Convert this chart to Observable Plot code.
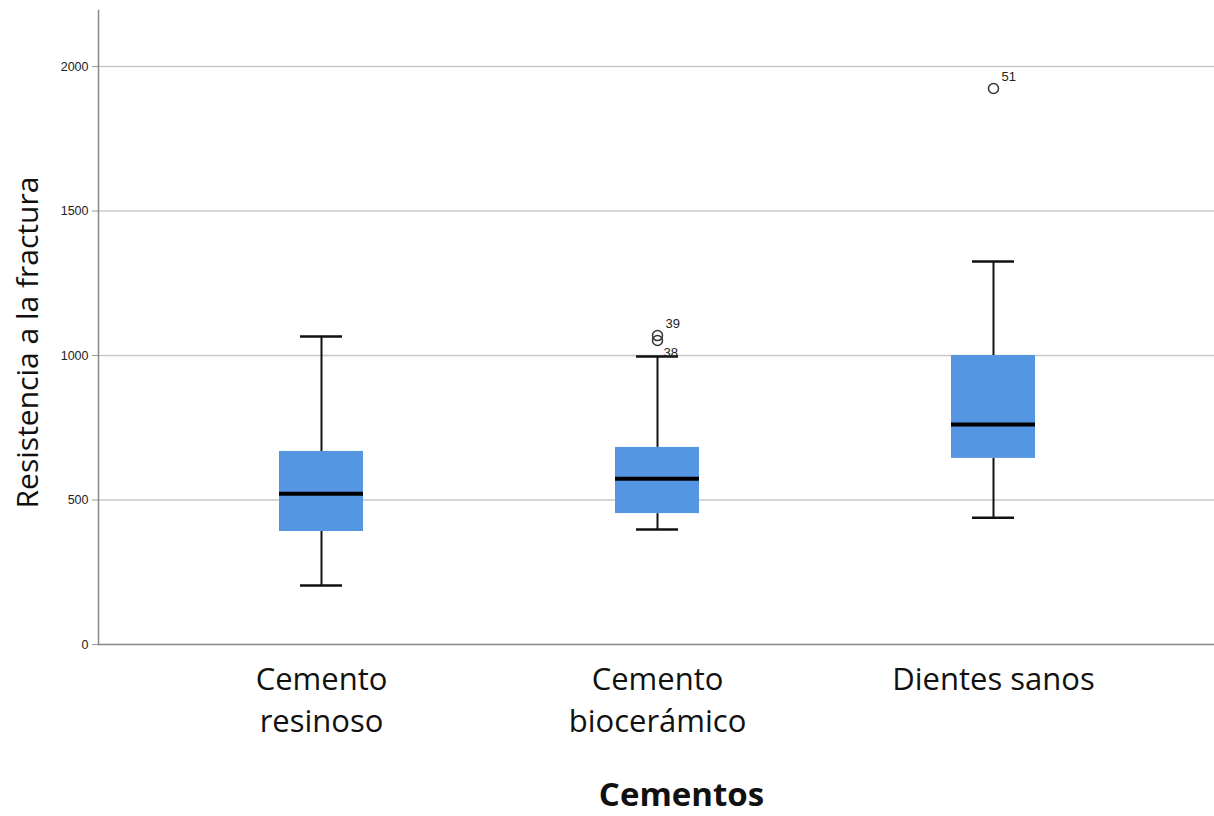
<!DOCTYPE html>
<html>
<head>
<meta charset="utf-8">
<script src="https://cdn.jsdelivr.net/npm/d3@7"></script>
<script src="https://cdn.jsdelivr.net/npm/@observablehq/plot@0.6"></script>
<style>
  html, body { margin: 0; padding: 0; background: #fff; }
  #chart svg { display: block; }
</style>
</head>
<body>
<div id="chart"></div>
<script>
const categories = ["Cemento resinoso", "Cemento biocerámico", "Dientes sanos"];
const tickLabels = ["Cemento\nresinoso", "Cemento\nbiocerámico", "Dientes sanos"];
const whiskerLow = [204, 398, 439];
const q1 = [391, 453, 644];
const median = [522, 574, 761];
const q3 = [668, 682, 1000];
const whiskerHigh = [1066, 997, 1325];
const outlierGroup = ["Cemento biocerámico", "Cemento biocerámico", "Dientes sanos"];
const outlierValue = [1052, 1069, 1924];
const outlierId = ["38", "39", "51"];
const yTicks = [0, 500, 1000, 1500, 2000];

const boxes = categories.map((c, i) => ({
  cat: c, lo: whiskerLow[i], q1: q1[i], med: median[i], q3: q3[i], hi: whiskerHigh[i]
}));
const outliers = outlierGroup.map((g, i) => ({cat: g, v: outlierValue[i], id: outlierId[i]}));
const labelMap = new Map(categories.map((c, i) => [c, tickLabels[i]]));

const plot = Plot.plot({
  width: 1214,
  height: 816,
  marginLeft: 98,
  marginRight: 0,
  marginTop: 10,
  marginBottom: 172,
  x: {domain: categories, range: [153, 1161], padding: 0},
  y: {domain: [0, 2194]},
  style: {background: "#fff"},
  marks: [
    Plot.gridY(yTicks.slice(1), {stroke: "#c8c8c8", strokeOpacity: 1, strokeWidth: 1.5}),
    Plot.axisY(yTicks, {tickSize: 6, tickPadding: 4, fontSize: 12.5, fontFamily: "Liberation Sans, Arial", stroke: "#999", fill: "#222", label: null, tickFormat: d => String(d)}),
    Plot.axisX({tickSize: 0, tickPadding: 16, fontSize: 31, fontFamily: "Open Sans", fill: "#111", tickFormat: d => labelMap.get(d), label: null, lineHeight: 1.35}),
    Plot.frame({anchor: "left", stroke: "#888", strokeWidth: 1.5}),
    Plot.frame({anchor: "bottom", stroke: "#888", strokeWidth: 1.5}),
    Plot.ruleX(boxes, {x: "cat", y1: "lo", y2: "q1", stroke: "#111", strokeWidth: 2}),
    Plot.ruleX(boxes, {x: "cat", y1: "q3", y2: "hi", stroke: "#111", strokeWidth: 2}),
    Plot.tickY(boxes, {x: "cat", y: "lo", stroke: "#111", strokeWidth: 2.5, insetLeft: 147, insetRight: 147}),
    Plot.tickY(boxes, {x: "cat", y: "hi", stroke: "#111", strokeWidth: 2.5, insetLeft: 147, insetRight: 147}),
    Plot.barY(boxes, {x: "cat", y1: "q1", y2: "q3", fill: "#5596e3", insetLeft: 126, insetRight: 126}),
    Plot.tickY(boxes, {x: "cat", y: "med", stroke: "#000", strokeWidth: 4, insetLeft: 126, insetRight: 126}),
    Plot.dot(outliers, {x: "cat", y: "v", r: 5, stroke: "#333", strokeWidth: 1.5, fill: "none"}),
    Plot.text(outliers.filter(d => d.id !== "38"), {x: "cat", y: "v", text: "id", dx: 8, dy: -12, textAnchor: "start", fontSize: 13, fontFamily: "Liberation Sans, Arial", fill: "#222"}),
    Plot.text(outliers.filter(d => d.id === "38"), {x: "cat", y: "v", text: "id", dx: 6, dy: 12, textAnchor: "start", fontSize: 13, fontFamily: "Liberation Sans, Arial", fill: "#222"}),
    Plot.text(["Resistencia a la fractura"], {frameAnchor: "left", textAnchor: "middle", rotate: -90, dx: -70, dy: 15, fontSize: 30, fontFamily: "Open Sans", fill: "#111"}),
    Plot.text(["Cementos"], {frameAnchor: "bottom", dx: 25, dy: 161, fontSize: 33, fontWeight: "bold", fontFamily: "Open Sans", fill: "#111"})
  ]
});
document.getElementById("chart").appendChild(plot);
</script>
</body>
</html>
